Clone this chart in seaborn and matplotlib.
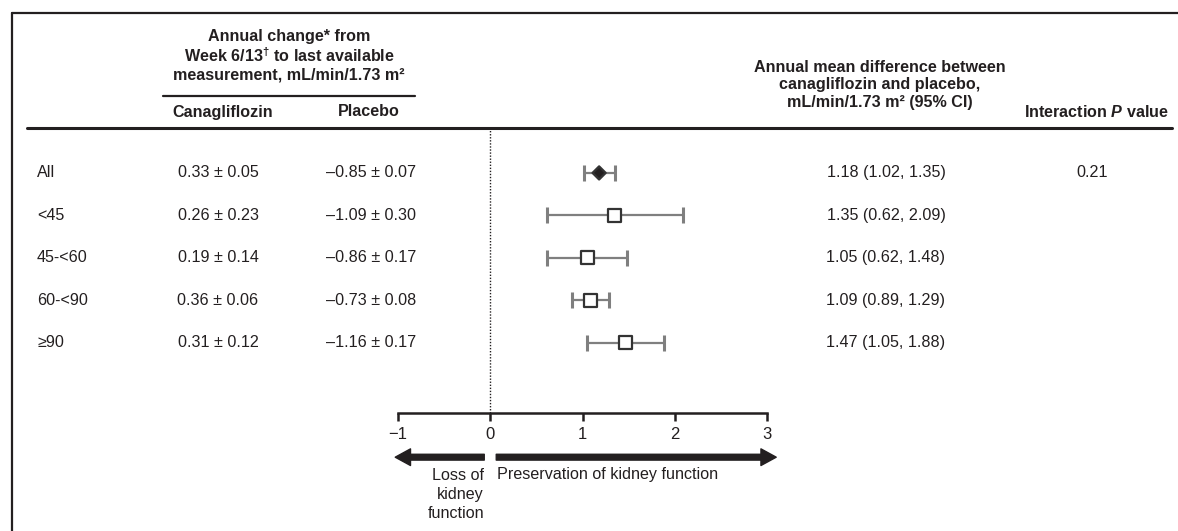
import matplotlib
matplotlib.use("Agg")
import matplotlib.pyplot as plt
import matplotlib.transforms as mtransforms
import numpy as np
import pandas as pd
import seaborn as sns


# eGFR subgroups (mL/min/1.73 m2)
subgroups = ["All", "<45", "45-<60", "60-<90", "≥90"]
kind = ["overall", "subgroup", "subgroup", "subgroup", "subgroup"]

# annual change, mean ± SE
cana_mean = [0.33, 0.26, 0.19, 0.36, 0.31]
cana_se = [0.05, 0.23, 0.14, 0.06, 0.12]
plac_mean = [-0.85, -1.09, -0.86, -0.73, -1.16]
plac_se = [0.07, 0.30, 0.17, 0.08, 0.17]

# annual mean difference (95% CI)
diff = [1.18, 1.35, 1.05, 1.09, 1.47]
ci_low = [1.02, 0.62, 0.62, 0.89, 1.05]
ci_high = [1.35, 2.09, 1.48, 1.29, 1.88]

p_interaction = ["0.21", "", "", "", ""]
x_ticks = [-1, 0, 1, 2, 3]

left_header = ["Annual change* from",
               "Week 6/13$^\u2020$ to last available",
               "measurement, mL/min/1.73 m\u00b2"]
right_header = ["Annual mean difference between",
                "canagliflozin and placebo,",
                "mL/min/1.73 m\u00b2 (95% CI)"]
loss_label = ["Loss of", "kidney", "function"]

INK = "#231f20"
W, H = 1178, 531


def fmt_pm(m, s):
    return f"{m:.2f} ± {s:.2f}".replace("-", "–")


def main() -> None:
    sns.set_theme(style="white")
    plt.rcParams.update({
        "font.family": ["Liberation Sans", "DejaVu Sans"],
        "font.size": 11.6,
        "text.color": INK,
        "mathtext.fontset": "custom",
        "mathtext.it": "Liberation Sans:bold:italic",
        "mathtext.rm": "Liberation Sans:bold",
    })

    df = pd.DataFrame({
        "subgroup": subgroups,
        "row": np.arange(len(subgroups)),
        "kind": kind,
        "diff": diff,
        "lo": ci_low,
        "hi": ci_high,
    })

    fig = plt.figure(figsize=(W / 100, H / 100), dpi=100)

    # page layer in pixel units, used for table text and rules
    bg = fig.add_axes([0, 0, 1, 1])
    bg.set_xlim(0, W)
    bg.set_ylim(H, 0)
    bg.axis("off")

    # forest panel: x=-1 at px 398, x=3 at px 767, axis line at px 413
    ax = fig.add_axes([398 / W, (H - 413) / H, (767 - 398) / W, (413 - 130) / H])
    ax.set_xlim(x_ticks[0], x_ticks[-1])
    ax.set_ylim(5.65, -1.01)
    ax.patch.set_alpha(0)

    ax.axvline(0, color=INK, lw=1.0, ls=(0, (1.0, 1.2)), zorder=1)

    eb = ax.errorbar(df["diff"], df["row"],
                     xerr=[df["diff"] - df["lo"], df["hi"] - df["diff"]],
                     fmt="none", ecolor="#7f7f7f", elinewidth=1.6,
                     capsize=5.5, capthick=2.2, zorder=2)
    for cap in eb[1]:
        cap.set_color(INK)

    sns.scatterplot(data=df, x="diff", y="row", hue="kind", style="kind",
                    size="kind",
                    palette={"overall": INK, "subgroup": "white"},
                    markers={"overall": "D", "subgroup": "s"},
                    sizes={"overall": 45, "subgroup": 85},
                    edgecolor="#333333", linewidth=1.6,
                    legend=False, ax=ax, zorder=3)

    for side in ["left", "right", "top"]:
        ax.spines[side].set_visible(False)
    ax.spines["bottom"].set_color(INK)
    ax.spines["bottom"].set_linewidth(1.8)
    ax.set_xticks(x_ticks)
    ax.set_yticks([])
    ax.set_xlabel("")
    ax.set_ylabel("")
    ax.tick_params(axis="x", bottom=True, direction="out", length=6, width=1.8,
                   color=INK, pad=4, labelsize=12, labelcolor=INK)

    # direction arrows under the axis
    arrow_kw = dict(width=4.2, headwidth=12, headlength=11,
                    facecolor=INK, edgecolor=INK, shrink=0)
    ax.annotate("", xy=(-1.03, 0.139), xytext=(-0.065, 0.139),
                xycoords=("data", "figure fraction"),
                textcoords=("data", "figure fraction"), arrowprops=arrow_kw)
    ax.annotate("", xy=(3.10, 0.139), xytext=(0.065, 0.139),
                xycoords=("data", "figure fraction"),
                textcoords=("data", "figure fraction"), arrowprops=arrow_kw)
    for line, y in zip(loss_label, [475, 494, 513]):
        bg.text(484, y, line, ha="right", va="center")
    bg.text(497, 475, "Preservation of kidney function", ha="left", va="center")

    # frame and header rules
    bg.plot([12, 12], [13, H], color=INK, lw=1.6)
    bg.plot([12, W], [13, 13], color=INK, lw=1.6)
    bg.plot([163, 415], [96, 96], color=INK, lw=1.6)
    bg.plot([27, 1172], [128, 128], color=INK, lw=2.2)

    for line, y in zip(left_header, [37, 56, 75]):
        bg.text(289, y, line, ha="center", va="center", fontweight="bold")
    bg.text(223, 112, "Canagliflozin", ha="center", va="center", fontweight="bold")
    bg.text(369, 112, "Placebo", ha="center", va="center", fontweight="bold")
    for line, y in zip(right_header, [68, 85, 102]):
        bg.text(880, y, line, ha="center", va="center", fontweight="bold")
    bg.text(1096, 112, "Interaction $P$ value", ha="center", va="center", fontweight="bold")

    # table rows share the forest panel's row scale
    rows_tr = mtransforms.blended_transform_factory(bg.transData, ax.transData)
    for i, name in enumerate(subgroups):
        bg.text(37, i, name, ha="left", va="center", transform=rows_tr)
        bg.text(218, i, fmt_pm(cana_mean[i], cana_se[i]), ha="center", va="center", transform=rows_tr)
        bg.text(371, i, fmt_pm(plac_mean[i], plac_se[i]), ha="center", va="center", transform=rows_tr)
        bg.text(886, i, f"{diff[i]:.2f} ({ci_low[i]:.2f}, {ci_high[i]:.2f})",
                ha="center", va="center", transform=rows_tr)
        if p_interaction[i]:
            bg.text(1092, i, p_interaction[i], ha="center", va="center", transform=rows_tr)

    fig.savefig("out.png", dpi=100)
    plt.close(fig)


if __name__ == "__main__":
    main()
